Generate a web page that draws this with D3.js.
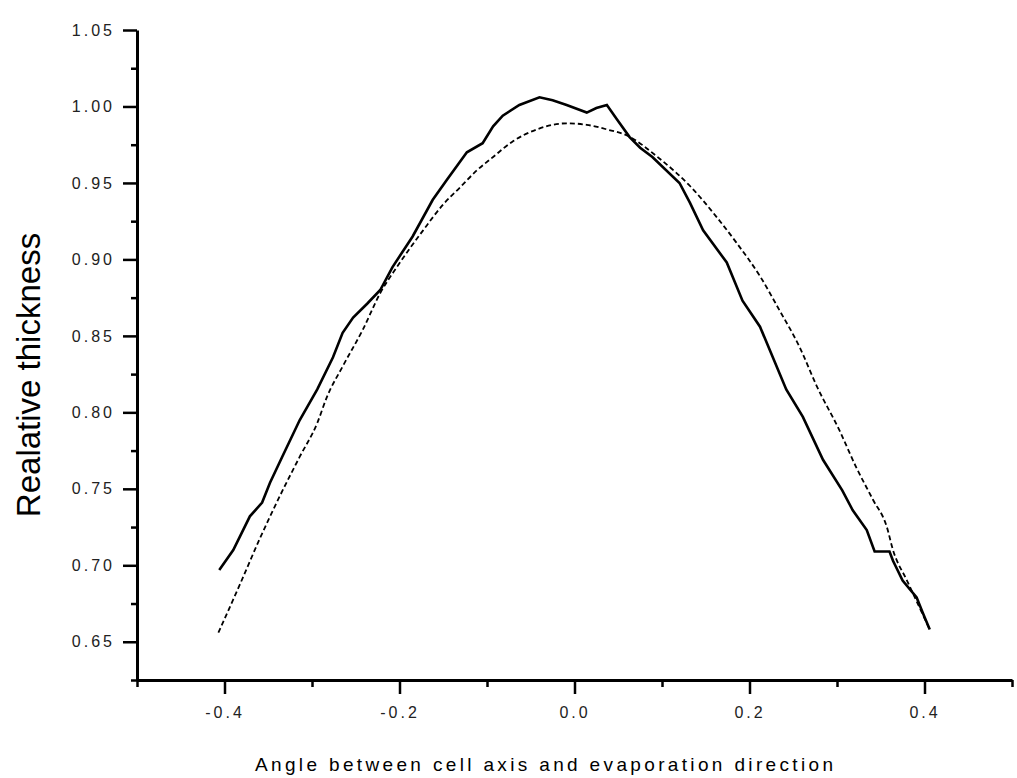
<!DOCTYPE html>
<html>
  <head>
    <meta charset="utf-8">
    <style>
      body { margin: 0; background: #fff; }
      text { font-family: "Liberation Sans", Arial, sans-serif; }
    </style>
    <title>Relative thickness</title>
  </head>
  <body>

  <div id="viz-wrapper"></div>

  <script src="https://cdnjs.cloudflare.com/ajax/libs/d3/7.8.5/d3.min.js" charset="utf-8"></script>
  <script type="text/javascript">

    // measured profile (solid)
    var measuredX = [-0.406,-0.390,-0.371,-0.357,-0.348,-0.334,-0.314,-0.294,-0.276,-0.265,-0.253,-0.237,-0.222,-0.208,-0.185,-0.162,-0.146,-0.123,-0.105,-0.093,-0.082,-0.063,-0.040,-0.025,-0.009,0.014,0.025,0.037,0.048,0.063,0.075,0.089,0.120,0.132,0.147,0.174,0.192,0.212,0.242,0.261,0.284,0.306,0.318,0.334,0.343,0.360,0.364,0.375,0.391,0.398,0.406];
    var measuredY = [0.697,0.710,0.732,0.741,0.754,0.771,0.795,0.815,0.836,0.852,0.862,0.871,0.880,0.895,0.915,0.939,0.952,0.970,0.976,0.987,0.994,1.001,1.006,1.004,1.001,0.996,0.999,1.001,0.992,0.980,0.973,0.967,0.950,0.937,0.919,0.898,0.873,0.856,0.815,0.797,0.769,0.749,0.736,0.723,0.709,0.709,0.703,0.690,0.679,0.669,0.658];

    // calculated profile (dashed)
    var calcX = [-0.407,-0.382,-0.360,-0.337,-0.314,-0.294,-0.283,-0.265,-0.242,-0.222,-0.203,-0.173,-0.150,-0.131,-0.112,-0.093,-0.071,-0.043,-0.009,0.014,0.037,0.060,0.097,0.132,0.162,0.185,0.212,0.234,0.257,0.277,0.303,0.322,0.341,0.357,0.364,0.380,0.406];
    var calcY = [0.656,0.688,0.717,0.745,0.771,0.793,0.810,0.830,0.854,0.878,0.895,0.919,0.936,0.947,0.958,0.967,0.977,0.985,0.989,0.988,0.985,0.981,0.966,0.948,0.928,0.911,0.889,0.867,0.843,0.817,0.788,0.764,0.743,0.725,0.710,0.690,0.658];

    var xMajor = [-0.4, -0.2, 0.0, 0.2, 0.4];
    var xMinor = [-0.5, -0.3, -0.1, 0.1, 0.3, 0.5];
    var yMajor = [0.65, 0.70, 0.75, 0.80, 0.85, 0.90, 0.95, 1.00, 1.05];
    var yMinor = [0.625, 0.675, 0.725, 0.775, 0.825, 0.875, 0.925, 0.975, 1.025];

    var width = 1017;
    var height = 778;
    var plotLeft = 137, plotRight = 1012, plotTop = 30, plotBottom = 680;

    var viz = d3.select("#viz-wrapper")
                .append('svg')
                .attr('width', width)
                .attr('height', height);

    var x = d3.scaleLinear().domain([-0.5, 0.5]).range([plotLeft, plotRight]);
    var y = d3.scaleLinear().domain([0.625, 1.05]).range([plotBottom, plotTop]);

    var fmtX = function(d){ return d3.format('.1f')(d).replace('\u2212', '-'); };
    var fmtY = function(d){ return d3.format('.2f')(d); };

    // minor ticks first, majors drawn over them
    viz.append('g')
       .attr('transform', 'translate(0,' + plotBottom + ')')
       .call(d3.axisBottom(x).tickValues(xMinor).tickSize(7).tickFormat(''))
       .call(function(g){ g.select('.domain').remove(); });

    viz.append('g')
       .attr('transform', 'translate(' + plotLeft + ',0)')
       .call(d3.axisLeft(y).tickValues(yMinor).tickSize(6).tickFormat(''))
       .call(function(g){ g.select('.domain').remove(); });

    viz.append('g')
       .attr('transform', 'translate(0,' + plotBottom + ')')
       .call(d3.axisBottom(x).tickValues(xMajor).tickSize(14).tickSizeOuter(0).tickPadding(13)
                .tickFormat(fmtX));

    viz.append('g')
       .attr('transform', 'translate(' + plotLeft + ',0)')
       .call(d3.axisLeft(y).tickValues(yMajor).tickSize(14).tickSizeOuter(0).tickPadding(8)
                .tickFormat(fmtY));

    viz.selectAll('.tick line').style('stroke', '#000').style('stroke-width', 2.5);
    viz.selectAll('.domain').style('stroke', '#000').style('stroke-width', 3);
    viz.selectAll('.tick text')
       .attr('font-size', null)
       .style('font-size', '16px')
       .style('letter-spacing', '3px')
       .style('fill', '#222');

    // curves
    var measured = measuredX.map(function(d, i){ return [d, measuredY[i]]; });
    var calc = calcX.map(function(d, i){ return [d, calcY[i]]; });

    var line = d3.line()
                 .x(function(d){ return x(d[0]); })
                 .y(function(d){ return y(d[1]); });

    viz.append('path')
       .datum(calc)
       .attr('d', line.curve(d3.curveMonotoneX))
       .style('fill', 'none')
       .style('stroke', '#000')
       .style('stroke-width', 1.8)
       .style('stroke-dasharray', '5,3');

    viz.append('path')
       .datum(measured)
       .attr('d', line.curve(d3.curveLinear))
       .style('fill', 'none')
       .style('stroke', '#000')
       .style('stroke-width', 2.6);

    // titles
    viz.append('text')
       .attr('x', 544)
       .attr('y', 771)
       .attr('text-anchor', 'middle')
       .attr('textLength', 578)
       .attr('lengthAdjust', 'spacing')
       .style('font-size', '19px')
       .text('Angle between cell axis and evaporation direction');

    viz.append('text')
       .attr('transform', 'translate(40,375) rotate(-90)')
       .attr('text-anchor', 'middle')
       .style('font-size', '33px')
       .text('Realative thickness');

  </script>
  </body>
</html>
